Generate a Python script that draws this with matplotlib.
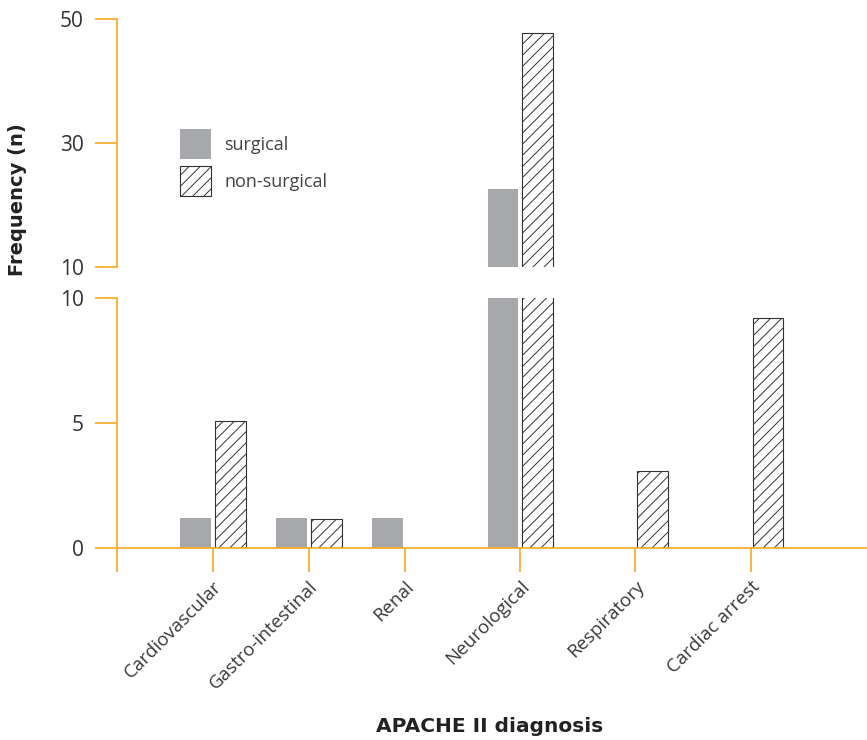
import matplotlib
matplotlib.use('Agg')
import matplotlib.pyplot as plt
import numpy as np

# data
categories = ['Cardiovascular', 'Gastro-intestinal', 'Renal',
              'Neurological', 'Respiratory', 'Cardiac arrest']
xpos = [0, 1, 2, 3.2, 4.4, 5.6]
surgical = [1.2, 1.2, 1.2, 22.6, 0, 0]
non_surgical = [5.1, 1.15, 0, 47.7, 3.1, 9.2]

orange = '#F7A823'
grey = '#A7A8AB'
plt.rcParams['font.family'] = ['Open Sans', 'DejaVu Sans']
plt.rcParams['hatch.linewidth'] = 0.7

fig = plt.figure(figsize=(8.67, 7.4), dpi=100)
ax_top = fig.add_axes([117/867, 1 - 267/740, 750/867, 248/740])
ax_bot = fig.add_axes([117/867, 1 - 548/740, 750/867, 250/740])

x = np.array(xpos)
off, w = 0.18, 0.32
for ax in (ax_top, ax_bot):
    s = [v if v > 0 else np.nan for v in surgical]
    n = [v if v > 0 else np.nan for v in non_surgical]
    ax.bar(x - off, s, w, color=grey, label='surgical')
    ax.bar(x + off, n, w, color='white', edgecolor='#333333', linewidth=0.8,
           hatch='///', label='non-surgical')
    ax.set_xlim(-1.0, 6.8125)
    for side in ['top', 'right']:
        ax.spines[side].set_visible(False)
    ax.spines['left'].set_color(orange)
    ax.spines['left'].set_linewidth(1.2)
    ax.tick_params(axis='y', length=16, width=1.2, color=orange, pad=8,
                   labelsize=15, labelcolor='#333333')

ax_top.set_ylim(10, 50)
ax_top.set_yticks([10, 30, 50])
ax_top.spines['bottom'].set_visible(False)
ax_top.set_xticks([])

ax_bot.set_ylim(0, 10)
ax_bot.set_yticks([0, 5, 10])
ax_bot.spines['bottom'].set_color(orange)
ax_bot.spines['bottom'].set_linewidth(1.2)
ax_bot.set_xticks([-1.0] + xpos)
ax_bot.set_xticklabels([''] + categories, rotation=45, ha='right',
                       rotation_mode='anchor', fontsize=13.5, color='#3a3a3a')
ax_bot.tick_params(axis='x', length=17, width=1.2, color=orange, pad=4)

h, l = ax_top.get_legend_handles_labels()
fig.legend(h, l, loc='upper left', bbox_to_anchor=(180/867, 1 - 129/740),
           frameon=False, fontsize=13, handlelength=1.69, handleheight=2.17,
           handletextpad=0.75, labelspacing=0.42, borderpad=0, borderaxespad=0,
           labelcolor='#444444')

fig.text(18/867, 1 - 200/740, 'Frequency (n)', rotation=90, ha='center',
         va='center', fontsize=14, fontweight='bold', color='#222222',
         family='DejaVu Sans')
fig.text(490/867, 1 - 727/740, 'APACHE II diagnosis', ha='center',
         va='center', fontsize=14.5, fontweight='bold', color='#222222',
         family='DejaVu Sans')

plt.savefig('out.png', dpi=100)
